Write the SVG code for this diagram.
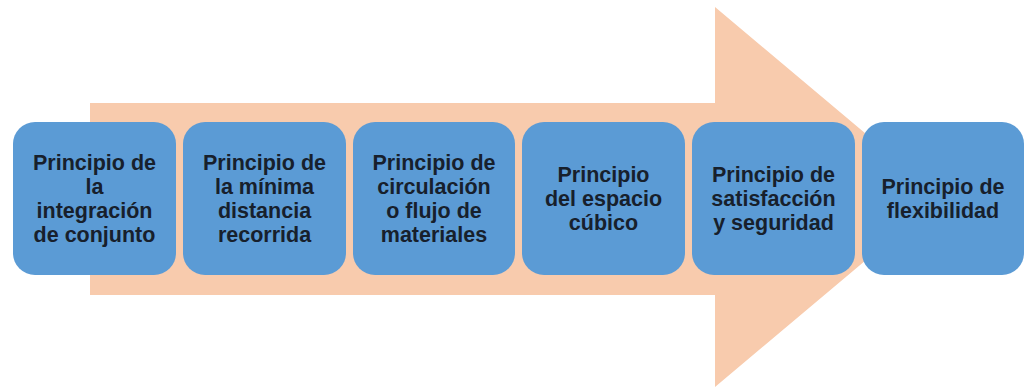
<svg xmlns="http://www.w3.org/2000/svg" width="1027" height="387" viewBox="0 0 1027 387">
<style>
.box{fill:#5B9BD5;}
.t{font-family:"Liberation Sans",Arial,sans-serif;font-weight:bold;font-size:21.5px;fill:#17202c;text-anchor:middle;}
</style>
<rect width="1027" height="387" fill="#ffffff"/>
<g id="arrow">
<polygon points="90,103 715,103 715,7 941,197 715,387 715,295 90,295" fill="#F8CBAD"/>
</g>
<g id="connectors"></g>
<g id="n1"><rect class="box" x="13" y="122" width="163" height="153" rx="22"/>
<text class="t"><tspan x="94.5" y="170">Principio de</tspan><tspan x="94.5" y="194">la</tspan><tspan x="94.5" y="218">integración</tspan><tspan x="94.5" y="242">de conjunto</tspan></text></g>
<g id="n2"><rect class="box" x="183" y="122" width="163" height="153" rx="22"/>
<text class="t"><tspan x="264.5" y="170">Principio de</tspan><tspan x="264.5" y="194">la mínima</tspan><tspan x="264.5" y="218">distancia</tspan><tspan x="264.5" y="242">recorrida</tspan></text></g>
<g id="n3"><rect class="box" x="353" y="122" width="162" height="153" rx="22"/>
<text class="t"><tspan x="434" y="170">Principio de</tspan><tspan x="434" y="194">circulación</tspan><tspan x="434" y="218">o flujo de</tspan><tspan x="434" y="242">materiales</tspan></text></g>
<g id="n4"><rect class="box" x="522" y="122" width="163" height="153" rx="22"/>
<text class="t"><tspan x="603.5" y="182">Principio</tspan><tspan x="603.5" y="206">del espacio</tspan><tspan x="603.5" y="230">cúbico</tspan></text></g>
<g id="n5"><rect class="box" x="692" y="122" width="163" height="153" rx="22"/>
<text class="t"><tspan x="773.5" y="182">Principio de</tspan><tspan x="773.5" y="206">satisfacción</tspan><tspan x="773.5" y="230">y seguridad</tspan></text></g>
<g id="n6"><rect class="box" x="862" y="122" width="162" height="153" rx="22"/>
<text class="t"><tspan x="943" y="194">Principio de</tspan><tspan x="943" y="218">flexibilidad</tspan></text></g>
</svg>
